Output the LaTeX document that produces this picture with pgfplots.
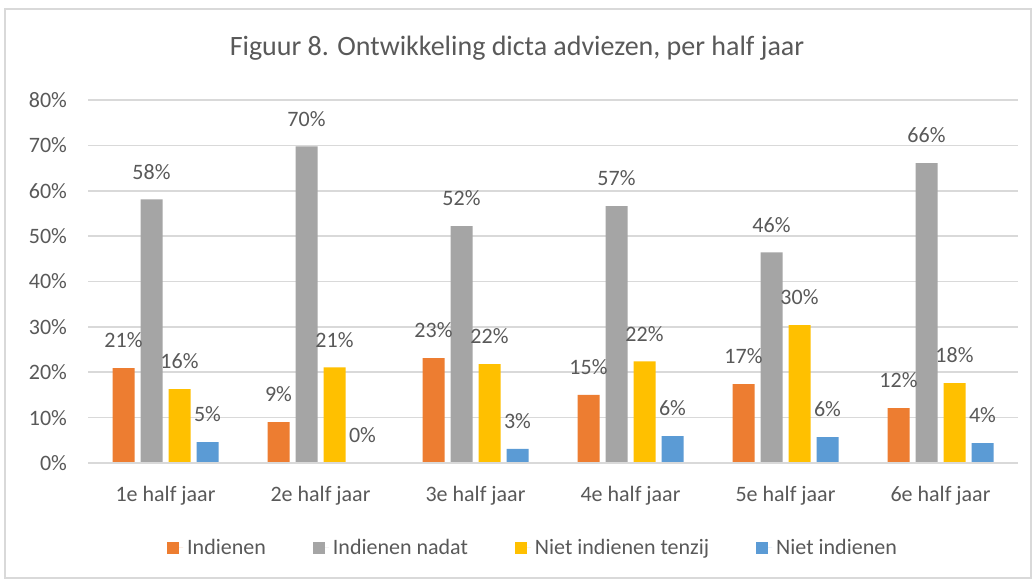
\documentclass[border=0pt]{standalone}
\usepackage{fontspec}
\setmainfont{Carlito}
\usepackage{pgfplots}
\pgfplotsset{compat=1.18}

\definecolor{cOrange}{HTML}{ED7D31}
\definecolor{cGray}{HTML}{A5A5A5}
\definecolor{cYellow}{HTML}{FFC000}
\definecolor{cBlue}{HTML}{5B9BD5}
\definecolor{txt}{HTML}{595959}
\definecolor{gridc}{HTML}{D9D9D9}

\begin{document}
\begin{tikzpicture}
\useasboundingbox (0,0) rectangle (518pt,290.5pt);
\fill[white] (0,0) rectangle (518pt,290.5pt);
\draw[gridc, line width=0.6pt] (2.5pt,1.5pt) rectangle (515.5pt,286pt);
\node[text=txt, font=\fontsize{14}{17}\selectfont] at (258.5pt,266.5pt) {Figuur 8. Ontwikkeling dicta adviezen, per half jaar};

\begin{axis}[
    at={(44pt,59pt)}, anchor=south west,
    scale only axis,
    width=465pt, height=181.5pt,
    ybar=3pt, bar width=11pt,
    xmin=-0.5, xmax=5.5,
    ymin=0, ymax=80,
    xtick={0,1,2,3,4,5},
    xticklabels={1e half jaar,2e half jaar,3e half jaar,4e half jaar,5e half jaar,6e half jaar},
    ytick={0,10,...,80},
    yticklabel={\pgfmathprintnumber{\tick}\%},
    /pgf/number format/assume math mode=true,
    tick label style={font=\fontsize{11}{13}\selectfont, text=txt},
    xticklabel style={yshift=-8pt},
    yticklabel style={xshift=-7pt},
    major tick length=0pt,
    axis line style={draw=none},
    axis x line*=bottom,
    axis y line*=left,
    ymajorgrids,
    grid style={gridc, line width=0.8pt},
    nodes near coords={\pgfmathprintnumber[fixed,precision=0]{\pgfplotspointmeta}\%},
    every node near coord/.append style={font=\fontsize{11}{13}\selectfont, text=txt, yshift=6.5pt},
    legend columns=4,
    legend style={at={(rel axis cs:0.4796,-0.234)}, anchor=center, draw=none, fill=none,
        font=\fontsize{11}{13}\selectfont, text=txt,
        /tikz/every even column/.append style={column sep=21.5pt}},
    legend image code/.code={\fill[#1] (0pt,-3pt) rectangle (6pt,3pt); \path (0pt,0pt) -- (8pt,0pt);},
]
\addplot[fill=cOrange, draw=none] coordinates {(0,20.9) (1,9.0) (2,23.1) (3,15.0) (4,17.4) (5,12.1)};
\addlegendentry{Indienen}
\addplot[fill=cGray, draw=none] coordinates {(0,58.1) (1,69.8) (2,52.2) (3,56.6) (4,46.4) (5,66.1)};
\addlegendentry{Indienen nadat}
\addplot[fill=cYellow, draw=none] coordinates {(0,16.3) (1,21.1) (2,21.8) (3,22.4) (4,30.4) (5,17.6)};
\addlegendentry{Niet indienen tenzij}
\addplot[fill=cBlue, draw=none] coordinates {(0,4.6) (1,0) (2,3.1) (3,5.9) (4,5.7) (5,4.4)};
\addlegendentry{Niet indienen}
\draw[gridc, line width=0.8pt] (rel axis cs:0,0) -- (rel axis cs:1,0);
\end{axis}
\end{tikzpicture}
\end{document}
